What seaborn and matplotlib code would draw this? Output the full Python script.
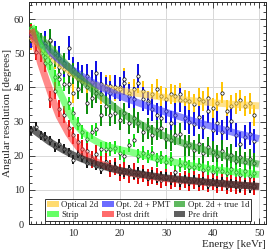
import numpy as np
import pandas as pd
import matplotlib
matplotlib.use('Agg')
import matplotlib.pyplot as plt
import seaborn as sns
from matplotlib.patches import Patch
from matplotlib.ticker import MultipleLocator

# point energies [keVr]
energy = list(range(1, 50))

# measured points per series
optical_2d = [54, 53, 52, 50, 49, 48.5, 46, 45.5, 44, 38.5, 42.5, 42, 40, 41.4, 39.5, 38.2, 40.5, 40.5, 39, 40,
              42.6, 38.5, 39.5, 41.4, 39, 36, 38, 39.6, 37.5, 36.7, 38, 37.6, 38.2, 36.2, 36, 35.2, 36.7, 36, 37, 34,
              35.5, 38.5, 33.2, 34.7, 35.3, 36.2, 34.5, 35.3, 31.8]
opt_pmt = [55, 54, 52.5, 53, 53.6, 50, 48.5, 46.5, 51.6, 45.5, 44, 43, 43.4, 41.5, 44.3, 41, 39.6, 38.5, 40, 39.6,
           41.4, 37.6, 36.5, 43.4, 36.7, 35.3, 33.8, 31.8, 31, 33, 29.7, 32, 36.2, 31, 30, 29.4, 31.2, 28.5, 33.2, 27.5,
           29.7, 27, 28, 30.3, 26, 23.3, 25.5, 26.5, 24.2]
opt_true1d = [56, 55, 53, 52, 54, 49, 44, 47, 41, 44, 39.6, 41.5, 35.3, 37, 38.5, 31.8, 34.5, 31.8, 32.4, 30.5,
              32.4, 29.5, 31, 29.7, 27, 28, 26, 27.5, 28, 25, 24.5, 26, 26.5, 23, 23, 21.6, 23.5, 20.7, 22.5, 21.2,
              20, 21.5, 19.5, 20.3, 18.5, 19.6, 18.2, 19, 17.8]
strip = [57, 56, 52.5, 49, 47, 43, 42.5, 41, 35.3, 32.4, 29.4, 27, 25, 27, 27.7, 22, 21.9, 21.9, 22.4, 20.7,
         19.8, 23, 24.5, 20, 20.7, 19.8, 20.7, 18.7, 19.5, 18.2, 19, 15.2, 17.2, 17.8, 16.8, 16.6, 17.4, 15.8, 16.5, 15.2,
         16.2, 15.6, 14.8, 16, 15.3, 14.4, 15.5, 14.2, 15]
post_drift = [56, 50.5, 50, 47, 36.5, 39, 33.8, 32, 28, 26, 24, 22, 21.3, 19, 20.5, 17.5, 18.2, 16.2, 16.8, 15.2,
              15.8, 14.6, 15.3, 14.2, 14.8, 13.6, 14.3, 13.8, 13, 13.6, 12.8, 13.4, 12.5, 13.1, 12.3, 12.9, 12.1, 12.6, 11.9, 12.4,
              11.6, 12.2, 11.4, 11.9, 11.2, 11.7, 11, 11.5, 10.9]
pre_drift = [27.5, 28.5, 26, 25.5, 24.5, 22.5, 23.5, 22, 21, 18.8, 20.5, 19.5, 17.8, 19, 17, 16, 17.5, 16.5, 16.8, 15.5,
             15.2, 16, 14.5, 15.3, 14.8, 13.8, 14.5, 13.2, 14, 13.8, 12.8, 13.5, 12.2, 13, 12.5, 13.2, 12, 12.6, 11.5, 12.3,
             11.8, 12.5, 11.2, 11.8, 11.5, 10.8, 11.6, 10.5, 11.2]

# fitted curves, read at these energies
fit_energy = [1, 2, 3, 4, 5, 6, 7, 8, 9, 10, 11, 12, 13, 14, 15, 16, 17, 18, 19, 20, 22, 25, 30, 35, 40, 45, 50]
fit_optical_2d = [55, 53.5, 52, 50.8, 49.5, 48.2, 47, 46, 45, 44, 43.1, 42.3, 41.6, 41, 40.5, 40.1, 39.8, 39.5, 39.2, 39,
                  38.6, 38, 37, 36.2, 35.5, 35, 34.6]
fit_opt_pmt = [56, 54.5, 53, 51.8, 50.5, 49.3, 48, 47, 46, 45, 44.1, 43.2, 42.4, 41.6, 40.8, 40.1, 39.4, 38.8, 38.1, 37.5,
               36.5, 35, 32.7, 30.5, 28.5, 26.6, 25]
fit_opt_true1d = [57, 55.7, 54.3, 53, 51.6, 50.2, 48.8, 47.4, 46, 44.6, 43.3, 42, 40.8, 39.6, 38.4, 37.3, 36.2, 35.1, 34, 33,
                  31.2, 28.8, 25.5, 23, 21, 19, 17.5]
fit_strip = [58, 55, 52, 49, 46, 42.5, 39, 36, 33, 30.5, 28.5, 27, 26, 25, 24.2, 23.5, 23, 22.5, 22.1, 21.8,
             21.2, 20.2, 18.6, 17.2, 16, 15.2, 14.5]
fit_post_drift = [57, 52, 47, 43, 39, 35, 31.5, 29, 26.5, 24.5, 22.7, 21.2, 20, 19, 18.2, 17.6, 17, 16.5, 16, 15.6,
                  15, 14.3, 13.3, 12.6, 12, 11.5, 11]
fit_pre_drift = [28, 27, 26, 25, 24, 23.2, 22.4, 21.6, 20.9, 20.2, 19.6, 19, 18.5, 18, 17.5, 17.1, 16.7, 16.3, 16, 15.7,
                 15.2, 14.5, 13.5, 12.8, 12.1, 11.5, 11]

labels = ['Optical 2d', 'Opt. 2d + PMT', 'Opt. 2d + true 1d', 'Strip', 'Post drift', 'Pre drift']
point_sets = [optical_2d, opt_pmt, opt_true1d, strip, post_drift, pre_drift]
fit_sets = [fit_optical_2d, fit_opt_pmt, fit_opt_true1d, fit_strip, fit_post_drift, fit_pre_drift]
errors = [3.0, 3.5, 3.0, 2.0, 2.5, 1.3]
bar_colors = ['#ffc400', '#0a0ae6', '#0a8c0a', '#11e011', '#e60a0a', '#111111']
band_colors = ['#ffd040', '#3a3aff', '#2aa02a', '#33ff33', '#ff3a3a', '#2a2a2a']
band_alpha = [0.6, 0.6, 0.6, 0.6, 0.6, 0.72]

sns.set_style('ticks')
plt.rcParams['font.family'] = ['Liberation Serif', 'DejaVu Serif']

fig = plt.figure(figsize=(2.69, 2.52), dpi=100)
ax = fig.add_axes([0.108, 0.111, 0.881, 0.881])

for pts, fit, err, bc, fc, a in zip(point_sets, fit_sets, errors, bar_colors, band_colors, band_alpha):
    ax.errorbar(energy, pts, yerr=err, fmt='o', color=bc, ecolor=bc, elinewidth=1.4, capsize=0,
                markersize=2.4, markerfacecolor='white', markeredgecolor='black', markeredgewidth=0.5, zorder=3)
    sns.lineplot(x=fit_energy, y=fit, ax=ax, color=fc, linewidth=5, alpha=a, zorder=4,
                 solid_capstyle='butt')

ax.set_xlim(0.5, 51.5)
ax.set_ylim(0, 65)
ax.xaxis.set_major_locator(MultipleLocator(10))
ax.xaxis.set_minor_locator(MultipleLocator(1))
ax.yaxis.set_major_locator(MultipleLocator(10))
ax.yaxis.set_minor_locator(MultipleLocator(2))
ax.tick_params(which='both', direction='in', top=True, right=True, labelsize=7.5, width=0.6)
ax.tick_params(which='major', length=4)
ax.tick_params(which='minor', length=2)
ax.grid(True, which='major', color='#d8d8d8', linewidth=0.7)
ax.set_axisbelow(True)
for s in ax.spines.values():
    s.set_linewidth(0.7)

ax.set_ylabel('Angular resolution [degrees]', fontsize=8, labelpad=1)
ax.set_xlabel('Energy [keVr]', fontsize=8, labelpad=1)
ax.xaxis.set_label_coords(1.0, -0.07)
ax.xaxis.label.set_horizontalalignment('right')

# row-major legend order like the reference
order = [0, 3, 1, 4, 2, 5]
handles = [Patch(facecolor=band_colors[i], alpha=0.75, edgecolor='none') for i in order]
leg = ax.legend(handles, [labels[i] for i in order], ncol=3, loc='lower left',
                bbox_to_anchor=(0.068, 0.013, 0.87, 0.107),
                mode='expand', fontsize=6.4, frameon=True, fancybox=False, edgecolor='black',
                handlelength=1.3, handleheight=0.6, handletextpad=0.25, columnspacing=0.3,
                borderpad=0.25, labelspacing=0.2, borderaxespad=0)
leg.get_frame().set_linewidth(0.7)
leg.set_zorder(6)

fig.savefig('out.png', dpi=100)
